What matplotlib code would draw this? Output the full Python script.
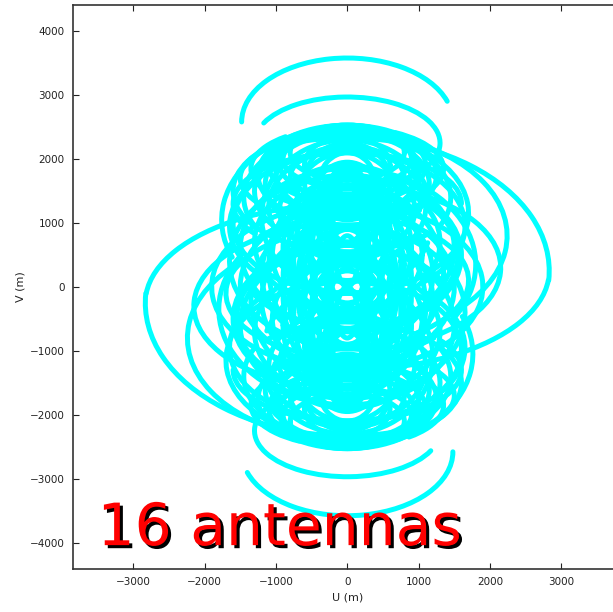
import numpy as np
import matplotlib
matplotlib.use('Agg')
import matplotlib.pyplot as plt
import matplotlib.patheffects as pe
from matplotlib.patches import Arc

# uv tracks (metres): v centre, u semi-axis, v semi-axis, start/end angle (deg)
# every track is drawn together with its conjugate (-u, -v)
track_vc = [2580, 2250, 250, 250, 800, 1050, 300, -350,
            1750, 1600, 1400, 1200, 950, 700, 500, 350, 250, 150, 100,
            900, 1300, 1700, 600, 200, 1100,
            1900, 2000, 1850, 1500, 1150, 400, 0, -200, 600, 300,
            1950, 2100, 1800,
            900, 900, 900, 700, 700, 400, 400, 400,
            1300, 1300, 1400, 1600, 1650, 1900, 100, 50,
            0, -500, 500, -100, 1500, 1300, 1700, 1000, 1250]
track_a = [1480, 1300, 2830, 2830, 2240, 1760, 2150, 1800,
           1250, 1150, 1450, 950, 1650, 1300, 1050, 800, 600, 450, 300,
           700, 600, 800, 1500, 1200, 1200,
           1100, 900, 1350, 1600, 1700, 1650, 1500, 1350, 900, 1100,
           950, 800, 1000,
           200, 400, 600, 300, 550, 250, 500, 750,
           300, 500, 700, 400, 600, 600, 900, 700,
           1900, 1600, 1550, 1700, 1300, 1600, 1500, 1600, 1100]
track_b = [1000, 720, 2080, 1550, 1600, 1460, 1300, 1500,
           780, 800, 1000, 700, 1150, 1050, 950, 800, 650, 500, 350,
           500, 400, 500, 1250, 1150, 1200,
           600, 450, 650, 950, 1250, 1350, 1250, 1400, 1100, 1400,
           580, 430, 720,
           900, 850, 800, 1000, 1100, 1200, 1300, 1300,
           600, 650, 700, 500, 600, 450, 1500, 1200,
           1300, 1200, 1150, 1000, 900, 800, 700, 1100, 900]
track_t1 = [13, -100, -3, 235, -40, 60, -70, 150,
            0, -30, -20, 0, -40, 0, 0, 0, 0, 0, 0,
            0, 0, 0, -60, 0, 20,
            -60, 0, 150, 100, -80, 120, -30, 60, 0, 40,
            0, 0, 0,
            0, 0, 0, 0, 0, 0, 0, 0,
            0, 0, 0, 0, 0, 0, -40, 0,
            100, 90, 200, 140, 120, 0, 30, 150, -50]
track_t2 = [180, 165, 115, 357, 120, 200, 60, 280,
            360, 210, 200, 360, 220, 360, 360, 360, 360, 360, 360,
            360, 360, 360, 240, 360, 340,
            250, 360, 400, 330, 100, 300, 150, 260, 360, 300,
            360, 360, 360,
            360, 360, 360, 360, 360, 360, 360, 360,
            360, 360, 360, 360, 360, 360, 200, 360,
            280, 270, 400, 330, 260, 200, 200, 330, 200]

label = '16 antennas'

fig = plt.figure(figsize=(6.13, 6.12), dpi=100)
ax = fig.add_axes([0.119, 0.0706, 0.895, 0.9213])

for vc, a, b, t1, t2 in zip(track_vc, track_a, track_b, track_t1, track_t2):
    for sign in (1, -1):
        arc = Arc((0, sign * vc), 2 * a, 2 * b,
                  theta1=t1 + (0 if sign > 0 else 180),
                  theta2=t2 + (0 if sign > 0 else 180),
                  color='#00ffff', lw=3.6, capstyle='round')
        ax.add_patch(arc)

ax.set_xlim(-3844, 3844)
ax.set_ylim(-4410, 4410)
ax.set_xticks([-3000, -2000, -1000, 0, 1000, 2000, 3000])
ax.set_yticks([-4000, -3000, -2000, -1000, 0, 1000, 2000, 3000, 4000])
ax.set_xticklabels(['\u22123000', '\u22122000', '\u22121000', '0', '1000', '2000', '3000'])
ax.set_yticklabels(['\u22124000', '\u22123000', '\u22122000', '\u22121000', '0',
                    '1000', '2000', '3000', '4000'])
ax.tick_params(direction='in', top=True, right=True, length=4, width=0.8,
               labelsize=7.5, colors='#222222', pad=6)
for s in ax.spines.values():
    s.set_linewidth(1.2)
    s.set_color('#333333')
ax.set_xlabel('U (m)', fontsize=8, color='#222222', labelpad=4)
ax.set_ylabel('V (m)', fontsize=8, color='#222222', labelpad=3)

ax.text(-3500, -4040, label, fontsize=42, color='red',
        path_effects=[pe.withSimplePatchShadow(offset=(2.2, -2.2),
                                               shadow_rgbFace='black', alpha=1.0)])

fig.savefig('out.png', dpi=100)
